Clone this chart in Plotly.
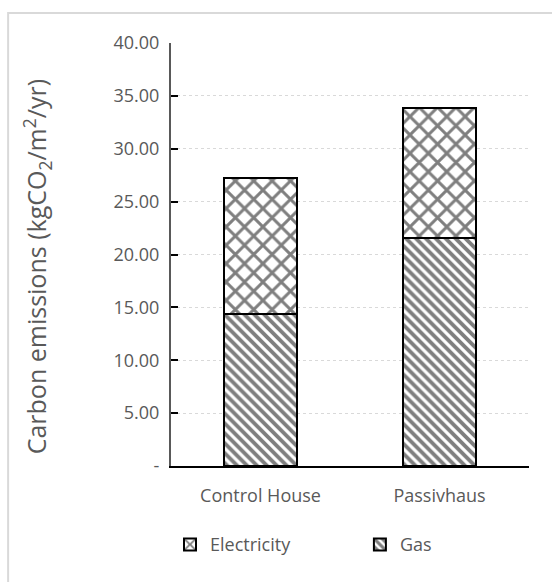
import plotly.graph_objects as go

# Chart data
categories = ["Control House", "Passivhaus"]
gas = [14.35, 21.6]
electricity = [12.85, 12.3]
tick_values = [0, 5, 10, 15, 20, 25, 30, 35, 40]
tick_labels = ["-", "5.00", "10.00", "15.00", "20.00", "25.00", "30.00", "35.00", "40.00"]
y_title = "Carbon emissions (kgCO<sub>2</sub>/m<sup>2</sup>/yr)"

font_family = "Open Sans, Liberation Sans, sans-serif"
text_grey = "#595959"

fig = go.Figure()

fig.add_trace(go.Bar(
    name="Gas",
    x=categories,
    y=gas,
    width=0.41,
    legend="legend2",
    marker=dict(
        color="white",
        line=dict(color="black", width=2),
        pattern=dict(shape="\\", fgcolor="black", bgcolor="white", size=7, solidity=0.55),
    ),
))

fig.add_trace(go.Bar(
    name="Electricity",
    x=categories,
    y=electricity,
    width=0.41,
    legend="legend",
    marker=dict(
        color="white",
        line=dict(color="black", width=2),
        pattern=dict(shape="x", fgcolor="black", bgcolor="white", size=13, solidity=0.4),
    ),
))

legend_common = dict(
    orientation="h",
    xref="container",
    yref="container",
    xanchor="left",
    y=0.064,
    yanchor="middle",
    font=dict(size=18, color=text_grey),
    itemwidth=30,
    bgcolor="rgba(0,0,0,0)",
)

fig.update_layout(
    barmode="stack",
    width=552,
    height=582,
    margin=dict(l=171, r=23, t=43, b=116, autoexpand=False),
    paper_bgcolor="white",
    plot_bgcolor="white",
    font=dict(family=font_family, color=text_grey, size=18),
    showlegend=True,
    legend=dict(x=0.308, **legend_common),
    legend2=dict(x=0.652, **legend_common),
    xaxis=dict(
        range=[-0.5, 1.5],
        showline=True,
        linecolor="black",
        linewidth=2,
        ticks="",
        tickfont=dict(size=18, color=text_grey),
        ticklabelstandoff=12,
        fixedrange=True,
    ),
    yaxis=dict(
        range=[0, 40],
        tickvals=tick_values,
        ticktext=tick_labels,
        showgrid=True,
        gridcolor="#d9d9d9",
        griddash="dot",
        gridwidth=1,
        zeroline=False,
        showline=True,
        linecolor="#595959",
        linewidth=2,
        ticks="inside",
        ticklen=7,
        tickcolor="black",
        tickwidth=2,
        tickfont=dict(size=18, color=text_grey),
        ticklabelstandoff=6,
    ),
    annotations=[
        dict(
            text=y_title,
            textangle=-90,
            xref="paper",
            yref="paper",
            x=-0.374,
            y=0.47,
            xanchor="center",
            yanchor="middle",
            showarrow=False,
            font=dict(size=25, color=text_grey),
        )
    ],
    shapes=[
        dict(
            type="rect",
            xref="paper",
            yref="paper",
            x0=-0.455,
            x1=1.2,
            y0=-0.4,
            y1=1.071,
            line=dict(color="#d9d9d9", width=2),
            fillcolor="rgba(0,0,0,0)",
            layer="below",
        )
    ],
)

fig.write_html("out.html")
